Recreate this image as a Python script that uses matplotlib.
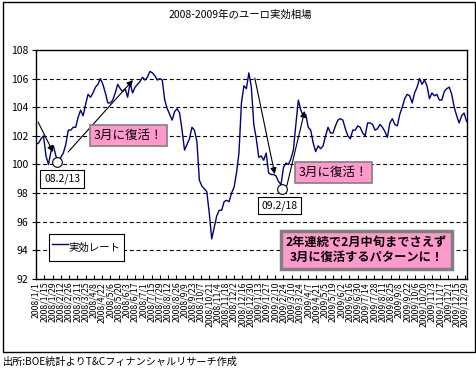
import numpy as np
import pandas as pd
import matplotlib
matplotlib.use("Agg")
import matplotlib.pyplot as plt
from matplotlib.patches import Rectangle

plt.rcParams['font.family'] = ['Noto Sans CJK JP', 'DejaVu Sans']

# business days of 2008-2009, values read every 3rd business day
all_days = pd.bdate_range('2008-01-01', '2009-12-31')
step = 3
rate = [
    101.4, 101.5, 101.8, 102.0, 100.6, 100.0, 100.9, 101.3, 100.6, 100.1,
    100.5, 100.8, 101.4, 102.4, 102.4, 102.6, 102.6, 103.3, 103.8, 103.4,
    104.2, 104.9, 104.7, 105.0, 105.4, 105.6, 106.0, 105.6, 105.0, 104.3,
    104.3, 104.5, 105.0, 105.6, 105.3, 105.1, 105.3, 104.7, 105.7, 105.0,
    105.4, 105.6, 105.8, 106.1, 105.9, 106.1, 106.5, 106.4, 106.2, 105.9,
    106.0, 105.9, 104.5, 103.9, 103.5, 103.1, 103.7, 103.9, 103.6, 102.4,
    101.0, 101.4, 101.8, 102.6, 102.4, 101.6, 98.9, 98.5, 98.3, 98.1,
    96.6, 94.8, 95.6, 96.4, 96.8, 96.8, 97.4, 97.5, 97.4, 98.0,
    98.4, 99.4, 100.8, 104.3, 105.5, 105.3, 106.4, 105.4, 102.8, 101.8,
    100.5, 100.6, 100.3, 100.8, 99.4, 99.3, 99.3, 99.2, 98.8, 98.6,
    99.8, 100.1, 100.0, 100.4, 101.0, 102.8, 104.5, 103.8, 103.4, 103.5,
    102.6, 102.4, 101.5, 100.9, 101.3, 101.1, 101.3, 102.0, 102.6, 102.2,
    102.2, 102.7, 103.1, 103.2, 103.1, 102.5, 102.0, 101.8, 102.4, 102.4,
    102.7, 102.6, 102.2, 102.0, 102.9, 102.9, 102.8, 102.4, 102.5, 102.8,
    102.6, 102.3, 101.9, 102.9, 103.2, 102.8, 102.7, 103.5, 104.0, 104.6,
    104.9, 104.8, 104.3, 105.0, 105.4, 106.0, 105.6, 105.9, 105.5, 104.6,
    105.0, 104.8, 104.9, 104.5, 104.5, 105.1, 105.3, 105.4, 104.9, 104.0,
    103.4, 102.9, 103.4, 103.6, 103.0,
]
idx = np.arange(0, len(all_days), step)[:len(rate)]
tick_idx = np.arange(0, len(all_days), 10)
tick_labels = [f"{d.year}/{d.month}/{d.day}" for d in all_days[tick_idx]]

fig = plt.figure(figsize=(4.77, 3.73), dpi=100)
ax = fig.add_axes([0.0748, 0.252, 0.9042, 0.614])

ax.plot(idx, rate, color='#000080', lw=1.0, label='実効レート', zorder=3)

ax.set_xlim(-0.5, len(all_days) - 0.5)
ax.set_ylim(92, 108)
ax.set_yticks(np.arange(92, 109, 2))
ax.tick_params(axis='y', labelsize=7.5, length=3, direction='out', pad=2)
ax.set_xticks(tick_idx)
ax.set_xticklabels(tick_labels, rotation=90, fontsize=6.3)
ax.tick_params(axis='x', length=3, direction='in', pad=2)
for v in range(94, 108, 2):
    ax.axhline(v, color='black', lw=0.8, ls=(0, (3.5, 2.5)), zorder=1)
for s in ax.spines.values():
    s.set_linewidth(1.0)

# annotations
arrow = dict(arrowstyle='-|>', color='black', lw=0.8, mutation_scale=9,
             shrinkA=0, shrinkB=0)
ax.annotate('', xy=(20.6, 100.87), xytext=(2.4, 102.97), arrowprops=arrow, zorder=4)
ax.annotate('', xy=(117.5, 105.9), xytext=(38.8, 100.87), arrowprops=arrow, zorder=4)
ax.annotate('', xy=(289.4, 99.33), xytext=(265.2, 106.04), arrowprops=arrow, zorder=4)
ax.annotate('', xy=(325.7, 103.74), xytext=(304.0, 98.5), arrowprops=arrow, zorder=4)
ax.plot([25.4, 297.9], [100.17, 98.29], 'o', ms=7, mfc='white', mec='black',
        mew=0.8, zorder=5)

white_box = dict(boxstyle='square,pad=0.35', fc='white', ec='black', lw=0.8)
ax.text(31.5, 98.98, '08.2/13', fontsize=7.5, ha='center', va='center',
        bbox=white_box, zorder=6)
ax.text(295.5, 97.13, '09.2/18', fontsize=7.5, ha='center', va='center',
        bbox=white_box, zorder=6)

pink_box = dict(boxstyle='square,pad=0.3', fc='#FF99CC', ec='#808080', lw=1.2)
ax.text(112, 102.03, '3月に復活！', fontsize=9, ha='center', va='center',
        bbox=pink_box, zorder=6)
ax.text(360.3, 99.44, '3月に復活！', fontsize=9, ha='center', va='center',
        bbox=pink_box, zorder=6)
big_box = dict(boxstyle='square,pad=0.4', fc='#FF99CC', ec='#808080', lw=2.5)
ax.text(400.8, 94.02, '2年連続で2月中旬までさえず\n3月に復活するパターンに！',
        fontsize=8.8, fontweight='bold', ha='center', va='center',
        linespacing=1.15, bbox=big_box, zorder=6)

leg = ax.legend(loc='lower left', bbox_to_anchor=(0.03, 0.079), borderaxespad=0,
                fontsize=7.5, handlelength=1.5, handletextpad=0.1,
                handleheight=2.5, fancybox=False, framealpha=1,
                edgecolor='black', borderpad=0.35)
leg.get_frame().set_linewidth(0.8)

fig.text(0.503, 0.96, '2008-2009年のユーロ実効相場', fontsize=7.5,
         ha='center', va='center')
fig.text(0.006, 0.03, '出所:BOE統計よりT&Cフィナンシャルリサーチ作成',
         fontsize=7.3, ha='left', va='center')
fig.add_artist(Rectangle((0.0063, 0.0563), 0.9895, 0.9383, transform=fig.transFigure,
                         fill=False, ec='black', lw=1.0))

fig.savefig('out.png', dpi=100)
